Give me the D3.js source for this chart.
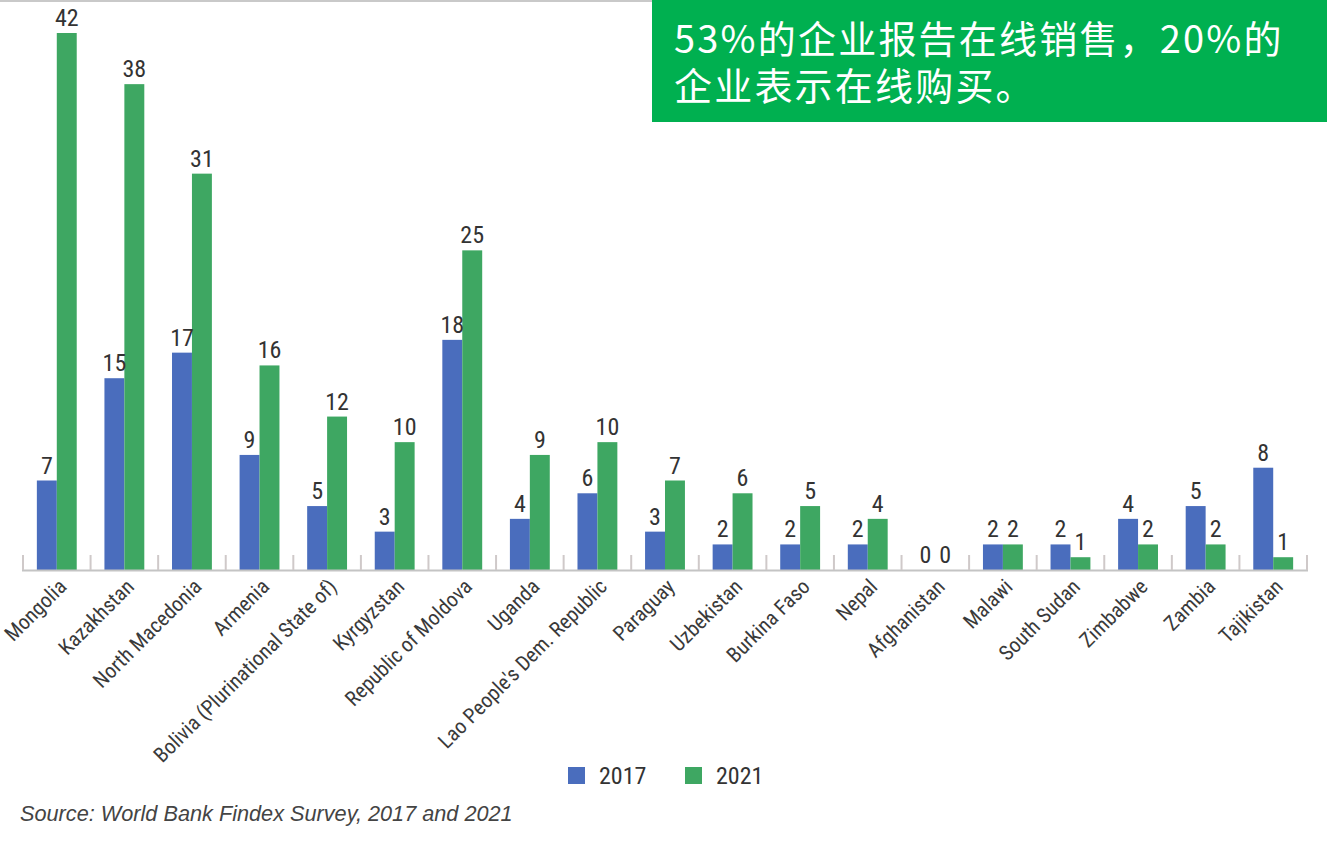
<!DOCTYPE html>
<html>
<head>
<meta charset="utf-8">
<script src="https://cdn.jsdelivr.net/npm/d3@7/dist/d3.min.js"></script>
<style>
  html, body { margin: 0; padding: 0; background: #ffffff; }
  svg { display: block; }
</style>
</head>
<body>
<svg id="chart" width="1327" height="865"></svg>
<script>
const categories = ["Mongolia", "Kazakhstan", "North Macedonia", "Armenia", "Bolivia (Plurinational State of)", "Kyrgyzstan", "Republic of Moldova", "Uganda", "Lao People's Dem. Republic", "Paraguay", "Uzbekistan", "Burkina Faso", "Nepal", "Afghanistan", "Malawi", "South Sudan", "Zimbabwe", "Zambia", "Tajikistan"];
const seriesNames = ["2017", "2021"];
const values2017 = [7, 15, 17, 9, 5, 3, 18, 4, 6, 3, 2, 2, 2, 0, 2, 2, 4, 5, 8];
const values2021 = [42, 38, 31, 16, 12, 10, 25, 9, 10, 7, 6, 5, 4, 0, 2, 1, 2, 2, 1];
const titleLines = ["53%的企业报告在线销售，20%的", "企业表示在线购买。"];
const sourceText = "Source: World Bank Findex Survey, 2017 and 2021";

const colors = { "2017": "#4a6dbd", "2021": "#3ea762" };
const narrow = "'Liberation Sans Narrow', 'Arial Narrow', 'Roboto Condensed', 'Liberation Sans', Arial, sans-serif";

const svg = d3.select("#chart");

const x0 = d3.scaleBand().domain(categories).range([23, 1307]).paddingInner(0.41).paddingOuter(0.205);
const x1 = d3.scaleBand().domain(seriesNames).range([0, x0.bandwidth()]).padding(0);
const y = d3.scaleLinear().domain([0, 42]).range([570, 33]);

const rows = categories.map((c, i) => ({ cat: c, vals: [ {s: "2017", v: values2017[i]}, {s: "2021", v: values2021[i]} ] }));

// top grey line
svg.append("rect").attr("x", 0).attr("y", 0).attr("width", 652).attr("height", 2).attr("fill", "#c9c9c9");

// groups
const g = svg.append("g");
const groups = g.selectAll("g.grp").data(rows).join("g")
  .attr("class", "grp")
  .attr("transform", d => `translate(${x0(d.cat)},0)`);

groups.selectAll("rect").data(d => d.vals).join("rect")
  .attr("x", d => x1(d.s))
  .attr("y", d => y(d.v))
  .attr("width", x1.bandwidth())
  .attr("height", d => y(0) - y(d.v))
  .attr("fill", d => colors[d.s]);

groups.selectAll("text.val").data(d => d.vals).join("text")
  .attr("class", "val")
  .attr("x", d => x1(d.s) + x1.bandwidth() / 2)
  .attr("y", d => y(d.v) - 7)
  .attr("text-anchor", "middle")
  .attr("font-family", narrow)
  .attr("font-size", 24)
  .attr("fill", "#333333")
  .text(d => d.v);

// axis line + boundary ticks
const step = x0.step();
const r0 = x0.range()[0];
const boundaries = d3.range(categories.length + 1).map(i => r0 + i * step);
svg.append("line").attr("x1", r0 - 1).attr("x2", x0.range()[1] + 1).attr("y1", 570.5).attr("y2", 570.5)
  .attr("stroke", "#c4c4c4").attr("stroke-width", 2);
svg.selectAll("line.tick").data(boundaries).join("line")
  .attr("class", "tick")
  .attr("x1", d => d).attr("x2", d => d)
  .attr("y1", 555).attr("y2", 570)
  .attr("stroke", "#cfc9c9").attr("stroke-width", 2);

// category labels
svg.selectAll("text.cat").data(categories).join("text")
  .attr("class", "cat")
  .attr("transform", d => `translate(${x0(d) + x0.bandwidth() / 2 + 11},588) rotate(-45)`)
  .attr("text-anchor", "end")
  .attr("font-family", narrow)
  .attr("font-size", 21)
  .attr("fill", "#3a3a3a")
  .text(d => d);

// legend
const legend = svg.append("g");
const legendX = [568, 685];
seriesNames.forEach((s, i) => {
  legend.append("rect").attr("x", legendX[i]).attr("y", 767).attr("width", 17).attr("height", 17).attr("fill", colors[s]);
  legend.append("text").attr("x", legendX[i] + 31).attr("y", 784)
    .attr("font-family", narrow).attr("font-size", 24).attr("fill", "#333333").text(s);
});

// source
svg.append("text").attr("x", 20).attr("y", 821)
  .attr("font-family", "'Liberation Sans', Arial, sans-serif")
  .attr("font-style", "italic").attr("font-size", 21.7).attr("fill", "#444444")
  .text(sourceText);

// title box
svg.append("rect").attr("x", 652).attr("y", 0).attr("width", 675).attr("height", 122).attr("fill", "#00b050");
const title = svg.append("text")
  .attr("x", 674)
  .attr("y", 53)
  .attr("font-family", "'Noto Sans CJK SC', sans-serif")
  .attr("font-size", 38)
  .attr("letter-spacing", 2.2)
  .attr("fill", "#ffffff");
title.selectAll("tspan").data(titleLines).join("tspan")
  .attr("x", 674)
  .attr("dy", (d, i) => i === 0 ? 0 : 47)
  .text(d => d);
</script>
</body>
</html>
